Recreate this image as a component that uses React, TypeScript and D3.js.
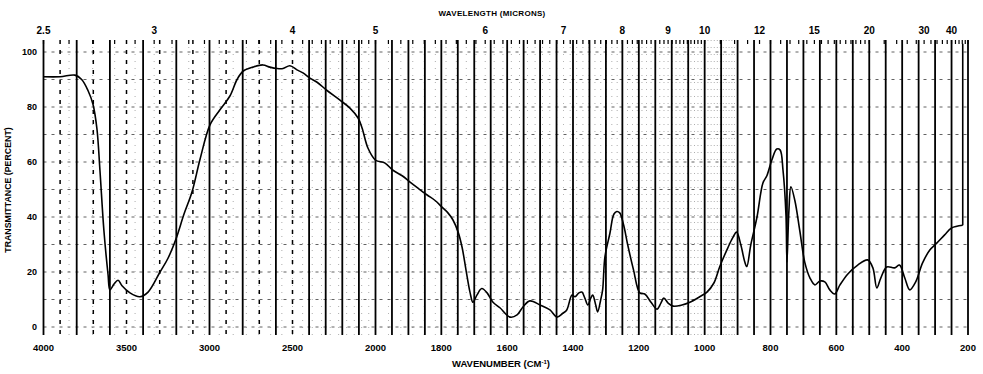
import React from "react";
import * as d3 from "d3";

// Spectrum: wavenumber (cm-1) and transmittance (%)
const wavenumbers = [
  4000, 3900, 3810, 3770, 3732, 3702, 3678, 3660, 3636, 3611, 3600, 3575, 3551, 3527, 3479, 3419, 3370,
  3298, 3250, 3202, 3154, 3106, 3057, 2997, 2937, 2877, 2834, 2798, 2738, 2678, 2636, 2593, 2557, 2516,
  2473, 2437, 2395, 2352, 2292, 2214, 2154, 2105, 2081, 2045, 2000, 1971, 1947, 1919, 1895, 1871, 1843,
  1819, 1798, 1780, 1765, 1749, 1737, 1725, 1713, 1704, 1692, 1677, 1661, 1643, 1622, 1591, 1570, 1552,
  1531, 1500, 1470, 1449, 1431, 1419, 1403, 1394, 1382, 1373, 1364, 1355, 1346, 1340, 1331, 1325, 1316,
  1310, 1303, 1288, 1276, 1267, 1258, 1246, 1234, 1216, 1197, 1182, 1163, 1145, 1133, 1124, 1111, 1096,
  1069, 1045, 1015, 993, 972, 954, 930, 915, 903, 890, 878, 872, 860, 841, 823, 811, 796, 781, 771, 762,
  753, 750, 744, 738, 726, 711, 696, 680, 665, 650, 635, 620, 605, 589, 565, 535, 505, 489, 477, 465, 447,
  423, 408, 392, 377, 359, 338, 316, 295, 271, 250, 216, 216,
];
const transmittance = [
  91, 91, 91.6, 90, 86, 81, 72, 57, 35, 19, 13.5, 15.6, 17, 15, 12.4, 11, 12.7,
  20, 25, 32, 41, 49, 61, 73.5, 79, 84, 90, 93, 94.5, 95.3, 94.5, 94, 94, 95,
  93.5, 92.4, 90.5, 89, 86, 82.5, 79.6, 76, 72.4, 65, 60.7, 59.6, 57, 55, 52.7, 50.5, 48,
  46, 43.6, 41.5, 39, 34.5, 29, 20.7, 12.7, 9, 11.6, 14, 12.4, 9, 7, 3.6, 4.4, 7.3,
  9.5, 8, 6.2, 3.6, 5, 6.2, 11.6, 11, 12.4, 12.7, 10.5, 8, 10.5, 11.6, 8, 5.5, 9.8,
  13.5, 25.5, 34, 41, 42, 41.5, 37, 30, 20.7, 12.4, 12, 9, 6.5, 8.7, 10.5, 8.7, 7.6,
  8, 9, 11, 12.7, 16, 22, 28.7, 32.4, 34.5, 29.8, 23.6, 22, 29.8, 40, 52.4, 55, 60.7, 64.7, 64.4, 57,
  40.7, 23.6, 42.5, 51, 46, 35, 23.6, 17.8, 15.3, 16.7, 16.4, 13.5, 12, 15.3, 19.3, 22.5, 24.4, 21.5, 14.2, 17.8, 21.8,
  21.5, 22.5, 17.8, 13.5, 16.4, 23.3, 28, 30.5, 33.5, 36, 37, 103,
];

const wavenumberTicks = [4000, 3500, 3000, 2500, 2000, 1800, 1600, 1400, 1200, 1000, 800, 600, 400, 200];
const wavelengthLabels = [2.5, 3, 4, 5, 6, 7, 8, 9, 10, 12, 15, 20, 30, 40];
const transmittanceTicks = [0, 20, 40, 60, 80, 100];

export default function App() {
  const W = 983;
  const H = 374;
  const x = d3.scaleLinear().domain([4000, 2000, 200]).range([43.5, 375.5, 968]);
  const y = d3.scaleLinear().domain([0, 100]).range([327, 52]);
  const gridTop = 40;
  const gridBottom = 335;

  const vLines: { v: number; dotted: boolean }[] = [];
  for (let v = 4000; v > 2000; v -= 100) {
    const solid = (4000 - v) % 200 === 0 || v < 2500;
    vLines.push({ v, dotted: !solid });
  }
  for (let v = 2000; v >= 200; v -= 50) vLines.push({ v, dotted: false });

  // fine wavelength dotted lines (0.1 micron) in the dense chart region
  const fineLines: number[] = [];
  for (let w = 25; w <= 110; w += 1) {
    const wn = 10000 / (w / 10);
    if (wn > 4000 || wn < 200) continue;
    fineLines.push(wn);
  }
  const wlTicks: number[] = [];
  for (let w = 25; w <= 100; w += 1) wlTicks.push(w / 10);
  for (let w = 10.5; w <= 20; w += 0.5) wlTicks.push(w);
  for (let w = 22; w <= 50; w += 2) wlTicks.push(w);

  const hLines = d3.range(0, 101, 10);

  const n = transmittance.length;
  const mainIdx = d3.range(0, n - 1);
  const line = d3
    .line<number>()
    .x((i) => x(wavenumbers[i]))
    .y((i) => y(transmittance[i]))
    .curve(d3.curveCatmullRom.alpha(0.5));
  const tail = d3
    .line<number>()
    .x((i) => x(wavenumbers[i]))
    .y((i) => y(transmittance[i]));

  const font = "'Liberation Sans', Arial, sans-serif";

  return (
    <svg
      width={W}
      height={H}
      style={{ position: "absolute", left: 0, top: 0, background: "#fff" }}
      fontFamily={font}
    >
      <rect x={0} y={0} width={W} height={H} fill="#fff" />
      {hLines.map((h) => (
        <line
          key={"h" + h}
          x1={43.5}
          x2={968}
          y1={y(h)}
          y2={y(h)}
          stroke="#222"
          strokeWidth={1}
          strokeDasharray="3,5"
          opacity={0.7}
        />
      ))}
      {fineLines.map((wn, i) => (
        <line
          key={"f" + i}
          x1={x(wn)}
          x2={x(wn)}
          y1={gridTop}
          y2={gridBottom}
          stroke="#555"
          strokeWidth={0.8}
          strokeDasharray="1,6"
          opacity={0.6}
        />
      ))}
      {vLines.map(({ v, dotted }) => (
        <line
          key={"v" + v}
          x1={x(v)}
          x2={x(v)}
          y1={gridTop}
          y2={gridBottom}
          stroke="#000"
          strokeWidth={dotted ? 1.5 : 1.8}
          strokeDasharray={dotted ? "4,6" : undefined}
        />
      ))}
      {wlTicks.map((w, i) => {
        const wn = 10000 / w;
        if (wn > 4000 || wn < 200) return null;
        return (
          <line
            key={"t" + i}
            x1={x(wn)}
            x2={x(wn)}
            y1={gridTop}
            y2={gridTop + 4}
            stroke="#000"
            strokeWidth={1.2}
          />
        );
      })}
      <path d={line(mainIdx) || ""} fill="none" stroke="#000" strokeWidth={1.6} strokeLinejoin="round" />
      <path d={tail([n - 2, n - 1]) || ""} fill="none" stroke="#000" strokeWidth={1.6} />

      <text x={492} y={16} textAnchor="middle" fontSize={8} fontWeight="bold" letterSpacing={0.3}>
        WAVELENGTH (MICRONS)
      </text>
      {wavelengthLabels.map((w) => (
        <text key={"wl" + w} x={x(10000 / w)} y={34} textAnchor="middle" fontSize={10} fontWeight="bold">
          {String(w)}
        </text>
      ))}
      {wavenumberTicks.map((v) => (
        <text key={"wn" + v} x={x(v)} y={351} textAnchor="middle" fontSize={9.5} fontWeight="bold">
          {String(v)}
        </text>
      ))}
      <text x={501} y={367} textAnchor="middle" fontSize={9.5} fontWeight="bold">
        WAVENUMBER (CM
        <tspan dy={-3} fontSize={6}>-1</tspan>
        <tspan dy={3}>)</tspan>
      </text>
      {transmittanceTicks.map((t) => (
        <text key={"yt" + t} x={37} y={y(t) + 3} textAnchor="end" fontSize={9} fontWeight="bold">
          {String(t)}
        </text>
      ))}
      <text
        transform={`translate(11,${190}) rotate(-90)`}
        textAnchor="middle"
        fontSize={8.8}
        fontWeight="bold"
      >
        TRANSMITTANCE (PERCENT)
      </text>
    </svg>
  );
}
